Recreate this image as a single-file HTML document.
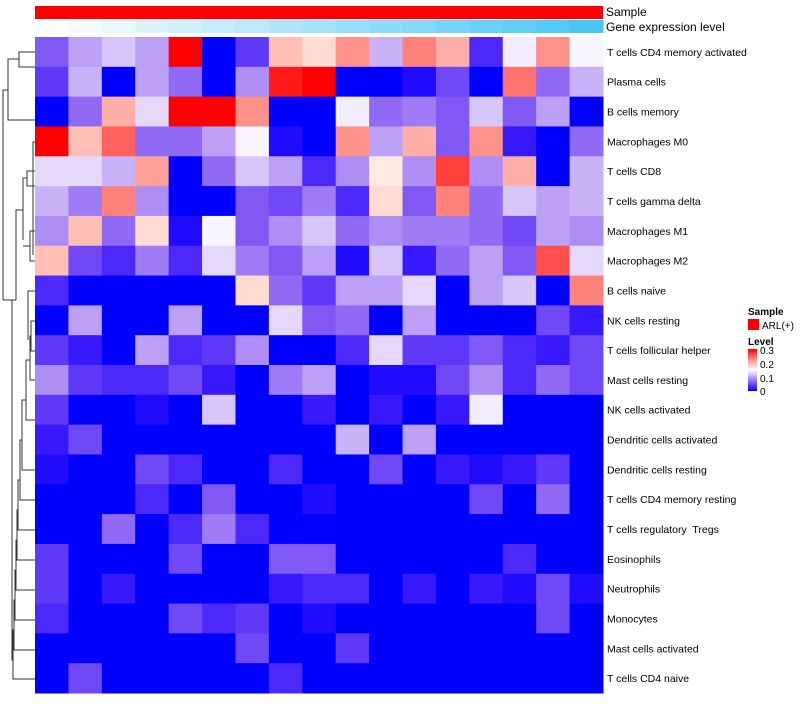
<!DOCTYPE html>
<html><head><meta charset="utf-8"><style>
body{margin:0;background:#fff;font-family:"Liberation Sans",sans-serif;}
svg text{font-family:"Liberation Sans",sans-serif;white-space:pre;}
</style></head><body>
<svg id="chart" width="800" height="700">
<g id="dendro" stroke="#333" stroke-width="1" fill="none">
<path d="M35,52 H19 V67 H35"/><path d="M19,59 H8 V120 H35"/>
<path d="M8,90 H3 V300"/>
<path d="M35,142 H33 V255"/>
<path d="M35,171 H27 V186 H35"/><path d="M27,178 H23 V240"/>
<path d="M35,231 H30 V261 H35"/><path d="M30,246 H23"/><path d="M23,210 H16 V300"/>
<path d="M3,300 H16"/>
<path d="M35,291 H28 V340"/>
<path d="M35,321 H31 V351 H35"/><path d="M31,336 H30 V380 H35"/>
<path d="M30,360 H26 V420 H35"/><path d="M26,400 H22 V470 H35"/>
<path d="M22,440 H20 V500 H35"/><path d="M20,480 H18 V530 H35"/>
<path d="M18,510 H17 V560 H35"/><path d="M17,540 H16 V590 H35"/>
<path d="M16,570 H15 V620 H35"/><path d="M15,600 H14 V650 H35"/>
<path d="M14,630 H13 V679 H35"/><path d="M13,660 H12 V300"/>
</g>
<g id="cells"></g>
<g id="labels"></g>
<text x="606" y="16" font-size="12">Sample</text>
<text x="606" y="31" font-size="12">Gene expression level</text>
<g>
<text x="748" y="315" font-size="10" font-weight="bold">Sample</text>
<rect x="748" y="319" width="11" height="11" fill="#ff0000"/>
<text x="762" y="329" font-size="10">ARL(+)</text>
<text x="748" y="345" font-size="10" font-weight="bold">Level</text>
<defs><linearGradient id="lg" x1="0" y1="1" x2="0" y2="0"><stop offset="0" stop-color="#0000ff"/><stop offset="0.25" stop-color="#9873ff"/><stop offset="0.5" stop-color="#ffffff"/><stop offset="0.75" stop-color="#ff8d8d"/><stop offset="1" stop-color="#ff0000"/></linearGradient></defs>
<rect x="748" y="349" width="9" height="42" fill="url(#lg)"/>
<text x="760" y="354" font-size="10">0.3</text>
<text x="760" y="368" font-size="10">0.2</text>
<text x="760" y="382" font-size="10">0.1</text>
<text x="760" y="395" font-size="10">0</text>
</g>
</svg>
<script>
const rowNames=["T cells CD4 memory activated","Plasma cells","B cells memory","Macrophages M0","T cells CD8","T cells gamma delta","Macrophages M1","Macrophages M2","B cells naive","NK cells resting","T cells follicular helper","Mast cells resting","NK cells activated","Dendritic cells activated","Dendritic cells resting","T cells CD4 memory resting","T cells regulatory  Tregs","Eosinophils","Neutrophils","Monocytes","Mast cells activated","T cells CD4 naive"];
const geneLevel=[0,1,2,3,4,5,6,7,8,9,10,11,12,13,14,15,16];
const v01=[0.06,0.10,0.12,0.10,0.30,0,0.04,0.19,0.17,0.22,0.11,0.23,0.20,0.03,0.14,0.22,0.145];
const v02=[0.04,0.11,0,0.10,0.07,0,0.09,0.29,0.30,0,0,0.01,0.05,0,0.24,0.07,0.11];
const v03=[0,0.07,0.20,0.13,0.30,0.30,0.22,0,0,0.14,0.07,0.08,0.06,0.12,0.06,0.10,0];
const v04=[0.30,0.19,0.25,0.07,0.07,0.10,0.145,0.01,0,0.22,0.10,0.20,0.06,0.22,0.02,0,0.07];
const v05=[0.13,0.13,0.11,0.21,0,0.07,0.12,0.10,0.03,0.09,0.16,0.09,0.27,0.09,0.20,0,0.11];
const v06=[0.11,0.08,0.23,0.09,0,0,0.06,0.05,0.08,0.03,0.17,0.06,0.23,0.07,0.12,0.10,0.11];
const v07=[0.09,0.19,0.07,0.17,0.01,0.145,0.06,0.09,0.12,0.07,0.09,0.08,0.08,0.07,0.05,0.10,0.09];
const v08=[0.19,0.05,0.03,0.08,0.03,0.13,0.08,0.06,0.10,0.01,0.12,0.02,0.07,0.10,0.06,0.26,0.13];
const v09=[0.03,0,0,0,0,0,0.17,0.07,0.04,0.10,0.10,0.13,0,0.10,0.12,0,0.23];
const v10=[0,0.10,0,0,0.10,0,0,0.13,0.06,0.07,0,0.10,0,0,0,0.05,0.02];
const v11=[0.04,0.02,0,0.10,0.03,0.04,0.09,0,0,0.03,0.13,0.04,0.04,0.06,0.03,0.02,0.05];
const v12=[0.09,0.04,0.03,0.03,0.05,0.02,0,0.08,0.10,0,0.01,0.01,0.05,0.09,0.03,0.07,0.05];
const v13=[0.04,0,0,0.01,0,0.12,0,0,0.02,0,0.02,0,0.02,0.14,0,0,0];
const v14=[0.02,0.05,0,0,0,0,0,0,0,0.11,0,0.10,0,0,0,0,0];
const v15=[0.01,0,0,0.05,0.03,0,0,0.03,0,0,0.05,0,0.02,0.01,0.02,0.04,0];
const v16=[0,0,0,0.03,0,0.06,0,0,0.01,0,0,0,0,0.05,0,0.07,0];
const v17=[0,0,0.07,0,0.03,0.08,0.03,0,0,0,0,0,0,0,0,0,0];
const v18=[0.04,0,0,0,0.05,0,0,0.06,0.06,0,0,0,0,0,0.03,0,0];
const v19=[0.04,0,0.02,0,0,0,0,0.02,0.03,0.03,0,0.02,0,0.02,0.01,0.05,0.01];
const v20=[0.03,0,0,0,0.05,0.03,0.04,0,0.01,0,0,0,0,0,0,0.05,0];
const v21=[0,0,0,0,0,0,0.05,0,0,0.04,0,0,0,0,0,0,0];
const v22=[0,0.05,0,0,0,0,0,0.03,0,0,0,0,0,0,0,0,0];
const values=[v01,v02,v03,v04,v05,v06,v07,v08,v09,v10,v11,v12,v13,v14,v15,v16,v17,v18,v19,v20,v21,v22];

const X0=35,X1=603,Y0=37,Y1=693;
const nc=v01.length,nr=rowNames.length;
const cw=(X1-X0)/nc,rh=(Y1-Y0)/nr;
function xPos(i){return X0+i*cw;}
function yPos(j){return Y0+j*rh;}
function col(v){
  v=Math.max(0,Math.min(0.3,v));
  let r,g,b;
  if(v<0.15){const t=v/0.15;r=255*Math.pow(t,0.75);g=255*Math.pow(t,1.15);b=255-10*Math.sin(Math.PI*t);}
  else{const t=(v-0.15)/0.15;const s=Math.pow(1-t,0.85);r=255;g=255*s*0.97;b=255*s*0.93;}
  return `rgb(${Math.round(r)},${Math.round(g)},${Math.round(b)})`;
}
function geneCol(k){
  const t=k/(geneLevel.length-1);
  const r=255+(74-255)*t,g=255+(198-255)*t,b=255+(245-255)*t;
  return `rgb(${Math.round(r)},${Math.round(g)},${Math.round(b)})`;
}
const NS="http://www.w3.org/2000/svg";
const cells=document.getElementById('cells');
const sb=document.createElementNS(NS,'rect');
sb.setAttribute('x',X0);sb.setAttribute('y',6);sb.setAttribute('width',X1-X0);sb.setAttribute('height',13);sb.setAttribute('fill','#ff0000');


cells.appendChild(sb);
geneLevel.forEach((k,i)=>{
  const r=document.createElementNS(NS,'rect');
  r.setAttribute('x',xPos(i));r.setAttribute('y',20);r.setAttribute('width',cw+0.5);r.setAttribute('height',13);r.setAttribute('fill',geneCol(k));
  
  
  cells.appendChild(r);
});
values.forEach((row,j)=>{
  row.forEach((v,i)=>{
    const r=document.createElementNS(NS,'rect');
    r.setAttribute('x',xPos(i));r.setAttribute('y',yPos(j));r.setAttribute('width',cw+0.5);r.setAttribute('height',rh+0.5);r.setAttribute('fill',col(v));
    
    
    cells.appendChild(r);
  });
});
const labels=document.getElementById('labels');
rowNames.forEach((n,j)=>{
  const t=document.createElementNS(NS,'text');
  t.setAttribute('x',607);t.setAttribute('y',yPos(j)+rh/2+4);t.setAttribute('font-size','10.5');
  t.textContent=n;
  
  
  labels.appendChild(t);
});
</script>
</body></html>
